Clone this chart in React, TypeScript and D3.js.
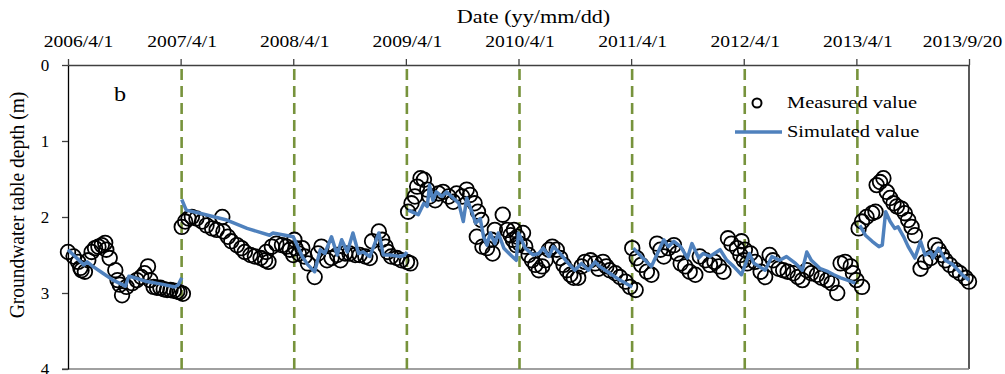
import { useEffect, useRef } from 'react';
import * as d3 from 'd3';

// top axis labels (equally spaced in the original figure)
const dateLabels = ['2006/4/1', '2007/4/1', '2008/4/1', '2009/4/1', '2010/4/1', '2011/4/1', '2012/4/1', '2013/4/1', '2013/9/20'];
const depthTicks = [0, 1, 2, 3, 4];
// dashed separators sit on these label positions
const yearMarks = [1, 2, 3, 4, 5, 6, 7];

// measured groundwater depth (m); t = position along the date axis, in label intervals from 2006/4/1
const measuredT = [
  0.00, 0.05, 0.09, 0.11, 0.12, 0.15, 0.18, 0.21, 0.24, 0.27, 0.30, 0.33, 0.34, 0.37, 0.42, 0.44, 0.46, 0.48,
  0.52, 0.57, 0.61, 0.65, 0.68, 0.71, 0.73, 0.76, 0.79, 0.82, 0.85, 0.88, 0.91, 0.94, 0.97, 0.99, 1.02,
  1.01, 1.04, 1.07, 1.10, 1.14, 1.19, 1.23, 1.28, 1.32, 1.37, 1.38, 1.42, 1.45, 1.50, 1.54, 1.57, 1.62, 1.66,
  1.71, 1.75, 1.76, 1.78, 1.81, 1.85, 1.90, 1.94, 1.97, 2.00, 2.01,
  2.02, 2.05, 2.08, 2.10, 2.13, 2.19, 2.22, 2.25, 2.30, 2.34, 2.39, 2.42, 2.46, 2.50, 2.55, 2.59, 2.64, 2.68,
  2.70, 2.76, 2.79, 2.82, 2.84, 2.87, 2.92, 2.96, 3.01, 3.04,
  3.02, 3.05, 3.08, 3.10, 3.13, 3.16, 3.19, 3.21, 3.26, 3.29, 3.33, 3.38, 3.42, 3.45, 3.50, 3.54, 3.57, 3.61,
  3.63, 3.64, 3.67, 3.68, 3.72, 3.76, 3.77, 3.79, 3.86, 3.90, 3.93, 3.95, 3.98,
  3.96, 3.99, 4.01, 4.04, 4.06, 4.09, 4.12, 4.15, 4.18, 4.21, 4.24, 4.27, 4.30, 4.34, 4.37, 4.40, 4.43, 4.46,
  4.49, 4.53, 4.56, 4.59, 4.64, 4.68, 4.71, 4.75, 4.78, 4.81, 4.86, 4.90, 4.95, 4.99, 5.04,
  5.01, 5.05, 5.09, 5.14, 5.18, 5.23, 5.26, 5.29, 5.33, 5.38, 5.41, 5.44, 5.48, 5.52, 5.57, 5.61, 5.66, 5.70,
  5.74, 5.78, 5.82, 5.86, 5.89, 5.94, 5.97, 6.00,
  5.98, 6.01, 6.03, 6.06, 6.10, 6.15, 6.19, 6.23, 6.26, 6.31, 6.35, 6.39, 6.44, 6.48, 6.52, 6.56, 6.60, 6.65,
  6.69, 6.74, 6.78, 6.83, 6.86, 6.90, 6.95, 6.97, 7.00, 7.05,
  7.02, 7.05, 7.09, 7.14, 7.17, 7.18, 7.21, 7.24, 7.27, 7.30, 7.33, 7.36, 7.40, 7.43, 7.46, 7.49, 7.52, 7.57,
  7.61, 7.66, 7.70, 7.73, 7.76, 7.79, 7.83, 7.88, 7.92, 7.97, 8.00,
];
const measuredDepth = [
  2.46, 2.52, 2.59, 2.67, 2.70, 2.72, 2.57, 2.46, 2.41, 2.39, 2.37, 2.34, 2.43, 2.54, 2.70, 2.83, 2.89, 3.03,
  2.92, 2.87, 2.83, 2.79, 2.74, 2.65, 2.83, 2.92, 2.93, 2.93, 2.95, 2.96, 2.96, 2.97, 2.98, 2.99, 3.01,
  2.13, 2.06, 2.02, 2.00, 2.02, 2.06, 2.11, 2.15, 2.17, 2.00, 2.19, 2.26, 2.32, 2.37, 2.41, 2.46, 2.50, 2.52,
  2.54, 2.57, 2.46, 2.59, 2.39, 2.35, 2.37, 2.39, 2.43, 2.50, 2.30,
  2.41, 2.48, 2.41, 2.52, 2.61, 2.79, 2.48, 2.39, 2.57, 2.54, 2.50, 2.57, 2.48, 2.48, 2.50, 2.50, 2.52, 2.54,
  2.32, 2.19, 2.30, 2.39, 2.46, 2.52, 2.54, 2.57, 2.59, 2.61,
  1.93, 1.82, 1.73, 1.60, 1.49, 1.51, 1.64, 1.73, 1.78, 1.69, 1.67, 1.73, 1.80, 1.69, 1.73, 1.64, 1.71, 1.82,
  2.26, 1.93, 2.04, 2.39, 2.41, 2.30, 2.48, 2.17, 1.97, 2.17, 2.24, 2.30, 2.37,
  2.17, 2.26, 2.35, 2.21, 2.39, 2.50, 2.57, 2.63, 2.70, 2.65, 2.57, 2.43, 2.39, 2.43, 2.54, 2.63, 2.70, 2.76,
  2.80, 2.80, 2.65, 2.59, 2.57, 2.61, 2.68, 2.59, 2.65, 2.70, 2.74, 2.79, 2.85, 2.92, 2.96,
  2.41, 2.54, 2.63, 2.72, 2.76, 2.35, 2.43, 2.52, 2.41, 2.37, 2.48, 2.61, 2.65, 2.72, 2.76, 2.52, 2.57, 2.63,
  2.59, 2.65, 2.72, 2.28, 2.35, 2.41, 2.50, 2.57,
  2.32, 2.43, 2.61, 2.48, 2.59, 2.72, 2.79, 2.50, 2.57, 2.68, 2.70, 2.72, 2.74, 2.79, 2.83, 2.70, 2.74, 2.76,
  2.80, 2.83, 2.87, 3.00, 2.61, 2.59, 2.65, 2.74, 2.83, 2.92,
  2.15, 2.06, 2.00, 1.95, 1.93, 1.58, 1.54, 1.49, 1.67, 1.75, 1.82, 1.86, 1.89, 1.95, 2.04, 2.13, 2.24, 2.68,
  2.59, 2.54, 2.37, 2.43, 2.50, 2.57, 2.63, 2.70, 2.74, 2.80, 2.85,
];

// simulated depth (m); null marks a break in the line
const simulatedT = [
  0.00, 0.14, 0.17, 0.22, 0.31, 0.40, 0.51, 0.54, 0.57, 0.70, 0.82, 0.95, 0.98, 1.01, null,
  1.01, 1.05, 1.17, 1.41, 1.59, 1.79, 1.82, 2.00, 2.08, 2.13, 2.19, 2.24, 2.28, 2.34, 2.39, 2.43, 2.48, 2.53,
  2.58, 2.62, 2.68, 2.76, 2.80, 2.86, 2.95, 2.99, 3.01, null,
  3.02, 3.08, 3.11, 3.16, 3.19, 3.21, 3.24, 3.27, 3.32, 3.36, 3.42, 3.47, 3.51, 3.54, 3.59, 3.62, 3.66, 3.69,
  3.72, 3.75, 3.79, 3.82, 3.87, 3.93, 3.98, 4.00, 4.06, 4.13, 4.18, 4.22, 4.27, 4.31, 4.37, 4.43, 4.50, 4.56,
  4.62, 4.68, 4.72, 4.81, 4.90, 5.01, null,
  5.02, 5.09, 5.18, 5.29, 5.33, 5.38, 5.44, 5.50, 5.54, 5.60, 5.64, 5.70, 5.79, 5.85, 5.91, 5.98, 6.05, 6.09,
  6.19, 6.25, 6.32, 6.38, 6.46, 6.52, 6.56, 6.60, 6.68, 6.75, 6.80, 6.86, 6.92, 6.99, null,
  7.03, 7.08, 7.14, 7.20, 7.23, 7.26, 7.30, 7.34, 7.37, 7.42, 7.46, 7.52, 7.57, 7.61, 7.66, 7.68, 7.73, 7.79,
  7.86, 7.94, 8.00,
];
const simulatedDepth = [
  2.43, 2.63, 2.59, 2.65, 2.74, 2.83, 2.91, 2.78, 2.79, 2.85, 2.88, 2.92, 2.89, 2.80, null,
  1.77, 1.91, 1.95, 2.04, 2.15, 2.24, 2.21, 2.26, 2.52, 2.63, 2.72, 2.43, 2.48, 2.26, 2.50, 2.30, 2.46, 2.21,
  2.48, 2.46, 2.52, 2.21, 2.50, 2.50, 2.52, 2.50, 2.46, null,
  1.91, 1.95, 1.97, 1.82, 1.86, 1.58, 1.78, 1.67, 1.73, 1.67, 1.75, 1.82, 2.06, 1.75, 1.95, 2.08, 2.02, 2.26,
  2.37, 2.21, 2.35, 2.21, 2.41, 2.50, 2.57, 2.21, 2.41, 2.50, 2.48, 2.41, 2.52, 2.39, 2.48, 2.59, 2.70, 2.61,
  2.70, 2.59, 2.65, 2.74, 2.83, 2.92, null,
  2.41, 2.52, 2.65, 2.30, 2.39, 2.32, 2.39, 2.54, 2.35, 2.54, 2.48, 2.52, 2.43, 2.57, 2.65, 2.76, 2.48, 2.61,
  2.70, 2.52, 2.57, 2.52, 2.61, 2.70, 2.46, 2.57, 2.68, 2.72, 2.76, 2.80, 2.83, 2.87, null,
  2.11, 2.24, 2.32, 2.39, 2.37, 1.93, 2.06, 2.15, 2.13, 2.26, 2.39, 2.54, 2.32, 2.50, 2.46, 2.54, 2.41, 2.57,
  2.63, 2.76, 2.83,
];

const W = 1005;
const H = 374;
const serif = '"Liberation Serif", "Times New Roman", serif';

export default function App() {
  const ref = useRef<SVGSVGElement>(null);

  useEffect(() => {
    if (!ref.current) return;
    const svg = d3.select(ref.current);
    svg.selectAll('*').remove();

    const left = 68, right = 969, top = 65, bottom = 369;

    const x = d3.scaleLinear().domain([0, 8]).range([left, right]);
    const y = d3.scaleLinear().domain([0, 4]).range([top, bottom]);

    svg.append('rect').attr('width', W).attr('height', H).attr('fill', '#fff');

    // frame: right and bottom
    svg.append('line')
      .attr('x1', right).attr('x2', right).attr('y1', top).attr('y2', bottom)
      .attr('stroke', '#000').attr('stroke-width', 1.3);
    svg.append('line')
      .attr('x1', left - 6).attr('x2', right).attr('y1', bottom).attr('y2', bottom)
      .attr('stroke', '#808080').attr('stroke-width', 1.3);

    // dashed year separators
    svg.selectAll('.sep')
      .data(yearMarks)
      .enter()
      .append('line')
      .attr('class', 'sep')
      .attr('x1', d => x(d) + 1).attr('x2', d => x(d) + 1)
      .attr('y1', top + 4).attr('y2', H)
      .attr('stroke', '#77933C')
      .attr('stroke-width', 2.6)
      .attr('stroke-dasharray', '11,6');

    // top date axis
    const xAxis = svg.append('g')
      .attr('transform', `translate(0,${top})`)
      .call(d3.axisTop(x)
        .tickValues(d3.range(dateLabels.length))
        .tickFormat((d: any) => dateLabels[d])
        .tickSize(6)
        .tickSizeOuter(0));
    xAxis.select('.domain').attr('stroke', '#404040').attr('stroke-width', 1.3);
    xAxis.selectAll('.tick line').attr('stroke', '#404040').attr('stroke-width', 1.3);
    xAxis.selectAll('.tick text')
      .attr('fill', '#000')
      .style('font-family', serif)
      .style('font-size', '17.5px')
      .attr('y', -18)
      .attr('dy', 0)
      .attr('transform', (d: any, i: number) => {
        const dx = i === 0 ? 10 : i === dateLabels.length - 1 ? -7 : 1;
        return `translate(${dx},0) scale(1.12,1)`;
      });

    // left depth axis
    const yAxis = svg.append('g')
      .attr('transform', `translate(${left},0)`)
      .call(d3.axisLeft(y).tickValues(depthTicks).tickFormat(d3.format('d')).tickSize(6).tickSizeOuter(0));
    yAxis.select('.domain').attr('stroke', '#000').attr('stroke-width', 1.3);
    yAxis.selectAll('.tick line').attr('stroke', '#404040').attr('stroke-width', 1.3);
    yAxis.selectAll('.tick text')
      .attr('fill', '#000')
      .attr('x', -23)
      .attr('text-anchor', 'middle')
      .style('font-family', serif)
      .style('font-size', '17px');

    // axis titles
    svg.append('text')
      .attr('transform', `translate(${(left + right) / 2 + 15},23) scale(1.2,1)`)
      .attr('text-anchor', 'middle')
      .style('font-family', serif)
      .style('font-size', '18.5px')
      .text('Date (yy/mm/dd)');

    svg.append('text')
      .attr('transform', 'translate(24,205) rotate(-90) scale(1,1.1)')
      .attr('text-anchor', 'middle')
      .style('font-family', serif)
      .style('font-size', '19.5px')
      .text('Groundwater table depth (m)');

    svg.append('text')
      .attr('transform', 'translate(114,101) scale(1.1,1)')
      .style('font-family', serif)
      .style('font-size', '22px')
      .text('b');

    // measured values
    svg.append('g')
      .selectAll('circle')
      .data(measuredT.map((t, i) => ({ t, v: measuredDepth[i] })))
      .enter()
      .append('circle')
      .attr('cx', d => x(d.t))
      .attr('cy', d => y(d.v))
      .attr('r', 7.3)
      .attr('fill', 'none')
      .attr('stroke', '#000')
      .attr('stroke-width', 1.8);

    // simulated values
    const line = d3.line<{ t: number | null; v: number | null }>()
      .defined(d => d.t !== null && d.v !== null)
      .x(d => x(d.t as number))
      .y(d => y(d.v as number));

    svg.append('path')
      .datum(simulatedT.map((t, i) => ({ t, v: simulatedDepth[i] })))
      .attr('fill', 'none')
      .attr('stroke', '#4F81BD')
      .attr('stroke-width', 3.5)
      .attr('stroke-linejoin', 'round')
      .attr('d', line);

    // legend
    const legend = svg.append('g');
    legend.append('circle')
      .attr('cx', 757).attr('cy', 103).attr('r', 4.5)
      .attr('fill', 'none').attr('stroke', '#000').attr('stroke-width', 2);
    legend.append('line')
      .attr('x1', 735).attr('x2', 782).attr('y1', 132).attr('y2', 132)
      .attr('stroke', '#4F81BD').attr('stroke-width', 3.5);
    legend.selectAll('text')
      .data(['Measured value', 'Simulated value'])
      .enter()
      .append('text')
      .attr('transform', (d, i) => `translate(787,${108 + i * 29}) scale(1.24,1)`)
      .style('font-family', serif)
      .style('font-size', '16.5px')
      .text(d => d);
  }, []);

  return (
    <div style={{ position: 'absolute', left: 0, top: 0 }}>
      <svg ref={ref} width={W} height={H} style={{ display: 'block' }} />
    </div>
  );
}
